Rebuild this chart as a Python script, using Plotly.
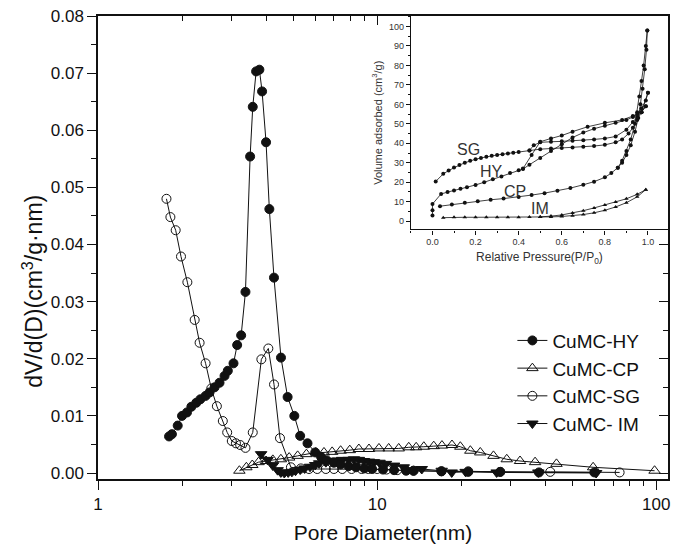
import plotly.graph_objects as go

# ---------------- main chart data (pore size distribution) ----------------
hy_x = [1.797, 1.84, 1.93, 2.0, 2.083, 2.16, 2.25, 2.326, 2.429, 2.51, 2.616, 2.725, 2.84,
        2.918, 3.058, 3.152, 3.257, 3.375, 3.507, 3.584, 3.685, 3.786, 3.871, 4.0, 4.11,
        4.27, 4.524, 4.778, 5.05, 5.30, 5.63, 6.0, 6.3, 6.6, 7.0, 7.4, 7.9, 8.4, 9.0, 9.6,
        10.5, 11.5, 12.7, 13.5, 17.0, 21.2, 27.6, 38.0, 60.0]
hy_y = [0.0064, 0.0068, 0.0083, 0.0100, 0.0106, 0.0116, 0.0123, 0.0129, 0.0135, 0.0141,
        0.0150, 0.0158, 0.0170, 0.0179, 0.0192, 0.0224, 0.0241, 0.0317, 0.0554, 0.0641,
        0.0703, 0.0706, 0.0668, 0.0579, 0.0462, 0.0342, 0.0202, 0.0133, 0.0100, 0.0065,
        0.0052, 0.0036, 0.0028, 0.0022, 0.0018, 0.0015, 0.0012, 0.0010, 0.0008, 0.0007,
        0.0006, 0.0005, 0.0004, 0.0004, 0.0003, 0.0002, 0.0002, 0.0001, 0.0001]

cp_x = [3.21, 3.40, 3.57, 3.76, 4.0, 4.23, 4.52, 4.84, 5.19, 5.58, 6.03, 6.45, 6.9, 7.4,
        7.98, 8.6, 9.35, 10.15, 11.0, 11.95, 12.98, 13.8, 14.7, 15.95, 17.07, 18.54, 19.86,
        21.57, 23.41, 26.11, 29.13, 32.5, 36.8, 43.9, 59.4, 98.6]
cp_y = [0.0004, 0.0010, 0.0014, 0.0019, 0.0021, 0.0023, 0.0024, 0.0027, 0.0030, 0.0033,
        0.0036, 0.0036, 0.0037, 0.0039, 0.0040, 0.0042, 0.0042, 0.0043, 0.0043, 0.0043,
        0.0045, 0.0045, 0.0046, 0.0047, 0.0048, 0.0049, 0.0046, 0.0039, 0.0036, 0.0030,
        0.0024, 0.0021, 0.0019, 0.0016, 0.0010, 0.0004]

sg_x = [1.759, 1.817, 1.898, 1.983, 2.09, 2.22, 2.312, 2.429, 2.546, 2.666, 2.80, 2.903,
        3.015, 3.12, 3.231, 3.375, 3.584, 3.848, 4.076, 4.272, 4.487, 4.91, 5.33, 5.70,
        6.10, 6.55, 7.0, 7.5, 8.1, 8.8, 9.3, 10.0, 10.8, 11.8, 13.5, 17.0, 21.2, 27.6,
        41.7, 73.9]
sg_y = [0.0480, 0.0448, 0.0425, 0.0379, 0.0334, 0.0268, 0.0228, 0.0192, 0.0148, 0.0117,
        0.0091, 0.0071, 0.0056, 0.0052, 0.0049, 0.0044, 0.0071, 0.0199, 0.0218, 0.0155,
        0.0061, 0.0010, 0.0008, 0.0007, 0.0007, 0.0007, 0.0007, 0.0007, 0.0007, 0.0007,
        0.0007, 0.0007, 0.0006, 0.0005, 0.0004, 0.0003, 0.0003, 0.0002, 0.0002, 0.0001]

im_x = [3.84, 4.05, 4.23, 4.40, 4.52, 4.65, 4.80, 4.95, 5.10, 5.30, 5.50, 5.75, 6.0, 6.2,
        6.55, 6.9, 7.2, 7.49, 7.9, 8.26, 8.6, 8.97, 9.35, 9.74, 10.2, 10.75, 11.5, 12.46,
        14.45, 17.03, 18.5, 20.75, 26.8, 37.8, 60.9]
im_y = [0.0033, 0.0023, 0.0013, 0.0005, 0.0001, 0.0000, 0.0001, 0.0002, 0.0004, 0.0006,
        0.0008, 0.0011, 0.0014, 0.0017, 0.0019, 0.0021, 0.0022, 0.0023, 0.0023, 0.0024,
        0.0023, 0.0021, 0.0020, 0.0019, 0.0018, 0.0016, 0.0013, 0.0010, 0.0007, 0.0004,
        0.0001, 0.0002, 0.0001, 0.0001, 0.0000]

# ---------------- inset data (N2 isotherms) ----------------
sg_ads_x = [0.015, 0.05, 0.075, 0.1, 0.125, 0.15, 0.175, 0.2, 0.225, 0.25, 0.275, 0.3, 0.325,
            0.35, 0.375, 0.4, 0.45, 0.5, 0.55, 0.6, 0.65, 0.7, 0.75, 0.8, 0.85, 0.88, 0.91,
            0.93, 0.95, 0.97, 0.99]
sg_ads_y = [20.4, 24.3, 26.0, 27.6, 28.8, 30.0, 31.0, 31.8, 32.5, 33.1, 33.6, 34.0, 34.4,
            34.8, 35.1, 35.5, 36.3, 37.0, 37.3, 37.6, 37.9, 38.2, 38.6, 39.2, 40.5, 42.0,
            45.0, 48.0, 52.0, 56.0, 59.0]
sg_des_x = [0.99, 0.97, 0.95, 0.93, 0.9, 0.85, 0.8, 0.75, 0.7, 0.65, 0.6, 0.55, 0.5, 0.47, 0.45]
sg_des_y = [59.0, 56.0, 53.5, 51.0, 47.0, 43.5, 42.5, 42.0, 41.6, 41.3, 41.0, 40.8, 40.5, 39.0, 36.3]

hy_ads_x = [0.0, 0.0, 0.0, 0.04, 0.07, 0.1, 0.13, 0.16, 0.2, 0.24, 0.28, 0.32, 0.36, 0.4,
            0.42, 0.45, 0.5, 0.55, 0.6, 0.65, 0.7, 0.75, 0.8, 0.85, 0.9, 0.93, 0.95, 0.97,
            0.99, 1.0]
hy_ads_y = [2.9, 5.6, 8.8, 14.0, 15.0, 15.8, 16.6, 17.4, 18.6, 20.0, 21.5, 23.0, 24.8, 26.2,
            26.8, 29.0, 32.5, 36.0, 39.5, 43.0, 45.5, 47.5, 49.0, 50.5, 52.0, 53.5, 55.0,
            58.0, 62.0, 66.0]
hy_des_x = [1.0, 0.97, 0.93, 0.88, 0.8, 0.72, 0.65, 0.6, 0.55, 0.5, 0.46, 0.42]
hy_des_y = [66.0, 56.0, 54.0, 52.0, 50.5, 48.5, 46.0, 44.0, 42.5, 40.8, 34.0, 27.0]

cp_ads_x = [0.035, 0.09, 0.15, 0.21, 0.27, 0.33, 0.4, 0.46, 0.52, 0.58, 0.64, 0.7, 0.75,
            0.8, 0.83, 0.86, 0.88, 0.9, 0.92, 0.94, 0.955, 0.965, 0.975, 0.985, 0.993, 0.997]
cp_ads_y = [7.7, 8.5, 9.4, 10.2, 11.0, 11.6, 12.4, 13.4, 14.4, 15.6, 17.0, 18.7, 20.3, 22.5,
            24.7, 27.5, 30.0, 34.0, 39.0, 46.0, 53.0, 60.0, 68.0, 78.0, 88.0, 98.0]
cp_des_x = [0.997, 0.99, 0.98, 0.97, 0.96, 0.95, 0.94, 0.92, 0.9, 0.88, 0.86]
cp_des_y = [98.0, 90.0, 80.0, 72.0, 64.0, 56.0, 50.0, 42.0, 36.0, 31.0, 27.5]

im_ads_x = [0.05, 0.1, 0.15, 0.2, 0.25, 0.3, 0.35, 0.4, 0.45, 0.5, 0.55, 0.6, 0.65, 0.7,
            0.75, 0.8, 0.85, 0.9, 0.95, 0.99]
im_ads_y = [1.8, 2.0, 2.0, 2.0, 2.0, 2.0, 2.0, 2.0, 2.1, 2.1, 2.2, 2.4, 2.8, 3.4, 4.3, 5.6,
            7.3, 9.5, 12.5, 16.2]
im_des_x = [0.99, 0.95, 0.9, 0.85, 0.8, 0.75, 0.7, 0.65, 0.6, 0.55, 0.5]
im_des_y = [16.2, 13.8, 11.5, 9.8, 8.3, 6.8, 5.4, 4.2, 3.2, 2.6, 2.2]

inset_labels = ["SG", "HY", "CP", "IM"]
inset_label_x = [0.167, 0.275, 0.383, 0.498]
inset_label_y = [36.6, 25.5, 15.3, 6.3]

FONT = "Liberation Sans, Arial, sans-serif"
BLACK = "#111111"
GREY = "#333333"

fig = go.Figure()

main_series = [
    ("CuMC-CP", cp_x, cp_y, "triangle-up-open", 10, 2),
    ("CuMC- IM", im_x, im_y, "triangle-down", 10, 4),
    ("CuMC-SG", sg_x, sg_y, "circle-open", 9, 3),
    ("CuMC-HY", hy_x, hy_y, "circle", 9, 1),
]
for name, xs, ys, sym, size, rank in main_series:
    fig.add_trace(go.Scatter(
        x=xs, y=ys, name=name, mode="lines+markers", legendrank=rank,
        line=dict(color=BLACK, width=1),
        marker=dict(symbol=sym, size=size, color=BLACK, line=dict(color=BLACK, width=1)),
    ))

inset_series = [
    (sg_ads_x, sg_ads_y, "circle"), (sg_des_x, sg_des_y, "circle"),
    (hy_ads_x, hy_ads_y, "circle"), (hy_des_x, hy_des_y, "circle"),
    (cp_ads_x, cp_ads_y, "circle"), (cp_des_x, cp_des_y, "circle"),
    (im_ads_x, im_ads_y, "triangle-up"), (im_des_x, im_des_y, "triangle-up"),
]
for xs, ys, sym in inset_series:
    fig.add_trace(go.Scatter(
        x=xs, y=ys, xaxis="x2", yaxis="y2", mode="lines+markers", showlegend=False,
        line=dict(color=BLACK, width=0.8),
        marker=dict(symbol=sym, size=4, color=BLACK),
    ))

for t, lx, ly in zip(inset_labels, inset_label_x, inset_label_y):
    fig.add_annotation(x=lx, y=ly, xref="x2", yref="y2", text=t, showarrow=False,
                       font=dict(family=FONT, size=16, color=GREY))

# main y-axis title (placed as rotated text, slightly below the axis centre as in the original)
fig.add_annotation(x=-0.1136, y=0.405, xref="paper", yref="paper", textangle=-90,
                   text="dV/d(D)(cm<sup>3</sup>/g·nm)", showarrow=False,
                   xanchor="center", yanchor="middle",
                   font=dict(family=FONT, size=23, color=BLACK))

major_x = [1, 10, 100]
minor_x = [2, 3, 4, 5, 6, 7, 8, 9, 20, 30, 40, 50, 60, 70, 80, 90]

fig.update_layout(
    width=674, height=545,
    margin=dict(l=98, r=4, t=16, b=65),
    paper_bgcolor="white", plot_bgcolor="white",
    font=dict(family=FONT, color=BLACK),
    showlegend=True,
    legend=dict(x=0.727, y=0.34, xanchor="left", yanchor="top", bgcolor="rgba(0,0,0,0)",
                font=dict(family=FONT, size=19, color=BLACK), tracegroupgap=0,
                itemsizing="trace"),
    xaxis=dict(
        type="log", range=[0, 2.042], showgrid=False, zeroline=False,
        showline=True, linecolor=BLACK, linewidth=1.5, mirror=True,
        tickmode="array", tickvals=major_x, ticktext=["1", "10", "100"],
        ticks="outside", ticklen=9, tickwidth=1.3, tickcolor=BLACK,
        minor=dict(tickmode="array", tickvals=minor_x, ticks="outside", ticklen=5,
                   tickwidth=1.3, tickcolor=BLACK),
        tickfont=dict(size=17, family=FONT, color=BLACK),
        title=dict(text="Pore Diameter(nm)", font=dict(size=21, family=FONT, color=BLACK),
                   standoff=12),
    ),
    yaxis=dict(
        range=[-0.00105, 0.08], showgrid=False, zeroline=False,
        showline=True, linecolor=BLACK, linewidth=1.5, mirror=True,
        tickmode="linear", tick0=0, dtick=0.01, tickformat=".2f",
        ticks="outside", ticklen=9, tickwidth=1.3, tickcolor=BLACK,
        minor=dict(dtick=0.005, tick0=0, ticks="outside", ticklen=5, tickwidth=1.3,
                   tickcolor=BLACK),
        tickfont=dict(size=17, family=FONT, color=BLACK),
    ),
    xaxis3=dict(
        type="log", overlaying="x", side="top", matches="x", range=[0, 2.042],
        showgrid=False, zeroline=False, showline=False, showticklabels=False,
        tickmode="array", tickvals=major_x, ticks="inside", ticklen=9, tickwidth=1.3,
        tickcolor=BLACK,
        minor=dict(tickmode="array", tickvals=minor_x, ticks="inside", ticklen=5,
                   tickwidth=1.3, tickcolor=BLACK),
    ),
    yaxis3=dict(
        overlaying="y", side="right", matches="y", range=[-0.00105, 0.08],
        showgrid=False, zeroline=False, showline=False, showticklabels=False,
        tickmode="linear", tick0=0, dtick=0.01, ticks="inside", ticklen=9, tickwidth=1.3,
        tickcolor=BLACK,
        minor=dict(dtick=0.005, tick0=0, ticks="inside", ticklen=5, tickwidth=1.3,
                   tickcolor=BLACK),
    ),
    xaxis2=dict(
        domain=[0.549, 1.0], anchor="y2", range=[-0.1, 1.093], showgrid=False,
        zeroline=False, showline=True, linecolor=BLACK, linewidth=1.3,
        tickmode="linear", tick0=0, dtick=0.2, tickformat=".1f",
        ticks="outside", ticklen=4, tickwidth=1, tickcolor=BLACK,
        minor=dict(dtick=0.1, tick0=0, ticks="outside", ticklen=2, tickcolor=BLACK),
        tickfont=dict(size=9, family=FONT, color=GREY),
        title=dict(text="Relative Pressure(P/P<sub>0</sub>)",
                   font=dict(size=12, family=FONT, color=GREY), standoff=6),
    ),
    yaxis2=dict(
        domain=[0.539, 1.0], anchor="x2", range=[-4.25, 105.4], showgrid=False,
        zeroline=False, showline=True, linecolor=BLACK, linewidth=1.3,
        tickmode="linear", tick0=0, dtick=10,
        ticks="outside", ticklen=4, tickwidth=1, tickcolor=BLACK,
        minor=dict(dtick=5, tick0=0, ticks="outside", ticklen=2, tickcolor=BLACK),
        tickfont=dict(size=9, family=FONT, color=GREY),
        title=dict(text="Volume adsorbed (cm<sup>3</sup>/g)",
                   font=dict(size=11, family=FONT, color=GREY), standoff=4),
    ),
)

# empty helper traces so the mirrored tick axes are drawn
fig.add_trace(go.Scatter(x=[], y=[], xaxis="x3", yaxis="y", showlegend=False, hoverinfo="skip"))
fig.add_trace(go.Scatter(x=[], y=[], xaxis="x", yaxis="y3", showlegend=False, hoverinfo="skip"))

fig.write_html("out.html", config={"displayModeBar": False},
               post_script="document.body.style.margin='0';")
